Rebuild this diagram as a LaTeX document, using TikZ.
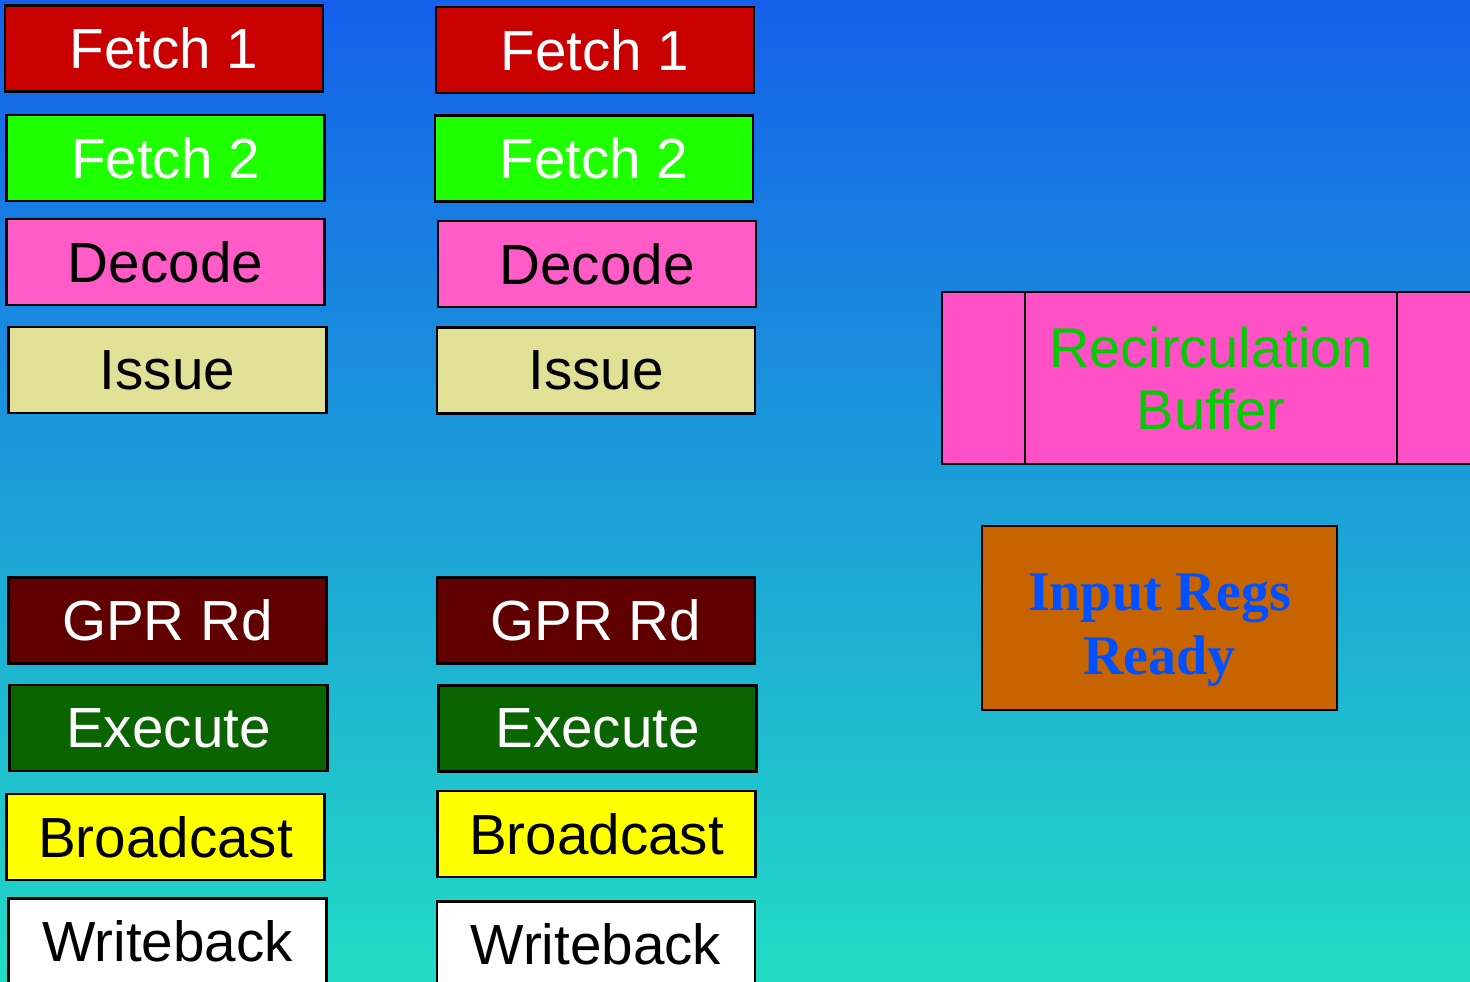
\documentclass[tikz,border=0pt]{standalone}
\usepackage{fontspec}
\setmainfont{Liberation Sans}
\newfontfamily\regsfont{Liberation Serif}

\definecolor{skytop}{HTML}{1560EB}
\definecolor{skybot}{HTML}{22DCC5}
\definecolor{fetchone}{HTML}{C80000}
\definecolor{fetchtwo}{HTML}{1EFF00}
\definecolor{decodec}{HTML}{FF5CC8}
\definecolor{issuec}{HTML}{E0E096}
\definecolor{gprc}{HTML}{600000}
\definecolor{execc}{HTML}{0A6400}
\definecolor{bcastc}{HTML}{FFFF00}
\definecolor{bufc}{HTML}{FF50C8}
\definecolor{bufgreen}{HTML}{00CC00}
\definecolor{regsc}{HTML}{C86400}
\definecolor{regsblue}{HTML}{0050FF}

\begin{document}
\begin{tikzpicture}
	[
	x=0.5pt, y=-0.5pt,
	stage/.style={draw = black, line width=1.2pt, shape = rectangle, minimum width=159pt, minimum height=43pt, inner sep=0pt, font=\fontsize{28.3}{31}\selectfont},
	bufcell/.style={draw = black, fill = bufc, line width=1.2pt, shape = rectangle, minimum height=86pt, inner sep=0pt}
	]
	
	\useasboundingbox (0,0) rectangle (1470,981);
	\shade[top color=skytop, bottom color=skybot] (0,0) rectangle (1470,981);
	
	% Left pipeline
	\node[stage, fill=fetchone, text=white](lf1) at (164,48.5){Fetch 1};
	\node[stage, fill=fetchtwo, text=white](lf2) at (165.5,158){Fetch 2};
	\node[stage, fill=decodec](ldec) at (165.5,262){Decode};
	\node[stage, fill=issuec](liss) at (167.5,370){Issue};
	\node[stage, fill=gprc, text=white](lgpr) at (167.5,620.5){GPR Rd};
	\node[stage, fill=execc, text=white](lexe) at (168.5,728){Execute};
	\node[stage, fill=bcastc](lbc) at (165.5,837){Broadcast};
	\node[stage, fill=white](lwb) at (167.5,941.5){Writeback};
	
	% Right pipeline
	\node[stage, fill=fetchone, text=white](rf1) at (595,50){Fetch 1};
	\node[stage, fill=fetchtwo, text=white](rf2) at (594,158.5){Fetch 2};
	\node[stage, fill=decodec](rdec) at (597,264){Decode};
	\node[stage, fill=issuec](riss) at (596,370.5){Issue};
	\node[stage, fill=gprc, text=white](rgpr) at (596,620.5){GPR Rd};
	\node[stage, fill=execc, text=white](rexe) at (597.5,728.5){Execute};
	\node[stage, fill=bcastc](rbc) at (596.5,834){Broadcast};
	\node[stage, fill=white](rwb) at (596,944.5){Writeback};
	
	% Recirculation buffer
	\node[bufcell, minimum width=41.5pt](bufL) at (983.5,378){};
	\node[bufcell, minimum width=186pt, align=center, text=bufgreen, font=\fontsize{28}{31}\selectfont](buf) at (1211,378){Recirculation\\Buffer};
	\node[bufcell, minimum width=60pt](bufR) at (1457,378){};
	
	% Input registers
	\node[draw = black, fill = regsc, line width=1.2pt, minimum width=177.5pt, minimum height=92pt,
		label={[align=center, text=regsblue, yshift=-6pt, font=\regsfont\bfseries\fontsize{28}{32}\selectfont]center:{Input Regs\\Ready}}](regs) at (1159.5,618){};
\end{tikzpicture}
\end{document}
